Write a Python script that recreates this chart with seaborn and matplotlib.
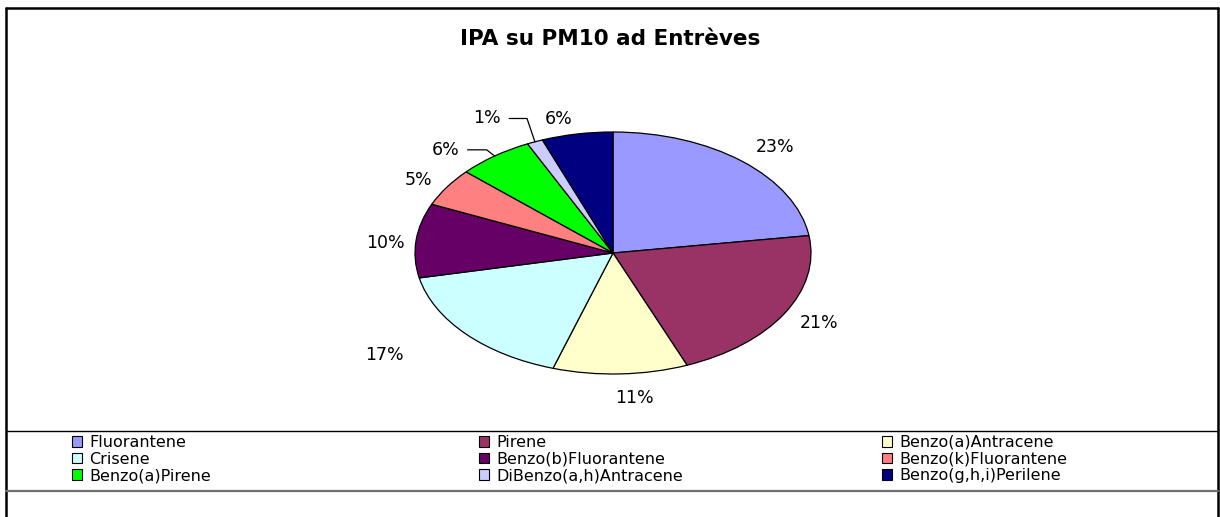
import numpy as np
import matplotlib
matplotlib.use("Agg")
import matplotlib.pyplot as plt
from matplotlib.patches import Patch
from matplotlib.lines import Line2D
import seaborn as sns

# data (percent shares)
compounds = ["Fluorantene", "Pirene", "Benzo(a)Antracene", "Crisene",
             "Benzo(b)Fluorantene", "Benzo(k)Fluorantene", "Benzo(a)Pirene",
             "DiBenzo(a,h)Antracene", "Benzo(g,h,i)Perilene"]
shares = [22.7, 21.2, 11.0, 16.8, 9.9, 5.1, 6.2, 1.3, 5.8]
colors = ["#9999FF", "#993366", "#FFFFCC", "#CCFFFF", "#660066",
          "#FF8080", "#00FF00", "#CCCCFF", "#000080"]
title = "IPA su PM10 ad Entrèves"

sns.set_style("white")
plt.rcParams['font.family'] = ['DejaVu Sans']
plt.rcParams['text.color'] = 'black'

W, H = 1220, 517
fig = plt.figure(figsize=(W / 100, H / 100), dpi=100)

def fx(px):
    return px / W

def fy(py):
    return 1 - py / H

# pie, squashed into an ellipse
ax = fig.add_axes([fx(415), fy(374), fx(396), 242 / H])
wedges, texts = ax.pie(shares, colors=colors, startangle=90, counterclock=False,
                       wedgeprops=dict(edgecolor="black", linewidth=0.9))
ax.set_aspect("auto")
ax.set_xlim(-1, 1)
ax.set_ylim(-1, 1)
ax.axis("off")

# percentage labels around the pie (radius factor, angle nudge in degrees)
dist = [1.2, 1.19, 1.2, 1.43, 1.15, 1.15, 1.2, 1.28, 1.14]
nudge = [-2, 1, 3, -6, 2, 1.5, 8, 6.5, 3.5]
label_pos = []
for w, v, d, n in zip(wedges, shares, dist, nudge):
    m = np.deg2rad((w.theta1 + w.theta2) / 2 + n)
    lx, ly = d * np.cos(m), d * np.sin(m)
    label_pos.append((lx, ly))
    ax.text(lx, ly, "%d%%" % round(v), ha="center", va="center",
            fontsize=12.5, clip_on=False)

# leader lines for the two small top-left slices
for i in (6, 7):
    w = wedges[i]
    m = np.deg2rad((w.theta1 + w.theta2) / 2)
    lx, ly = label_pos[i]
    ex, ey = np.cos(m), np.sin(m)
    ax.plot([lx + 0.11, ex - 0.04, ex], [ly, ly, ey], color="black",
            linewidth=0.9, clip_on=False)

fig.text(0.5, fy(39), title, ha="center", va="center",
         fontsize=15.5, fontweight="bold")

# legend: three columns, filled row by row
handles = [Patch(facecolor=c, edgecolor="black", linewidth=0.8) for c in colors]
col_x = [64, 471, 874]
for j, x in enumerate(col_x):
    idx = [j, j + 3, j + 6]
    fig.legend([handles[k] for k in idx], [compounds[k] for k in idx],
               loc="upper left", bbox_to_anchor=(fx(x), fy(427)),
               frameon=False, fontsize=11.5, borderpad=0,
               labelspacing=0.1, handlelength=0.62, handleheight=0.62,
               handletextpad=0.45)

# chart frame and legend separators
fig.add_artist(Line2D([fx(6), fx(6)], [fy(8), 0], color="black", linewidth=1.8))
fig.add_artist(Line2D([fx(1218), fx(1218)], [fy(8), 0], color="black", linewidth=1.8))
fig.add_artist(Line2D([fx(6), fx(1218)], [fy(8), fy(8)], color="black", linewidth=1.8))
fig.add_artist(Line2D([fx(6), fx(1218)], [fy(431), fy(431)], color="black", linewidth=1.0))
fig.add_artist(Line2D([fx(6), fx(1218)], [fy(491), fy(491)], color="#707070", linewidth=1.6))

plt.savefig("out.png", dpi=100)
